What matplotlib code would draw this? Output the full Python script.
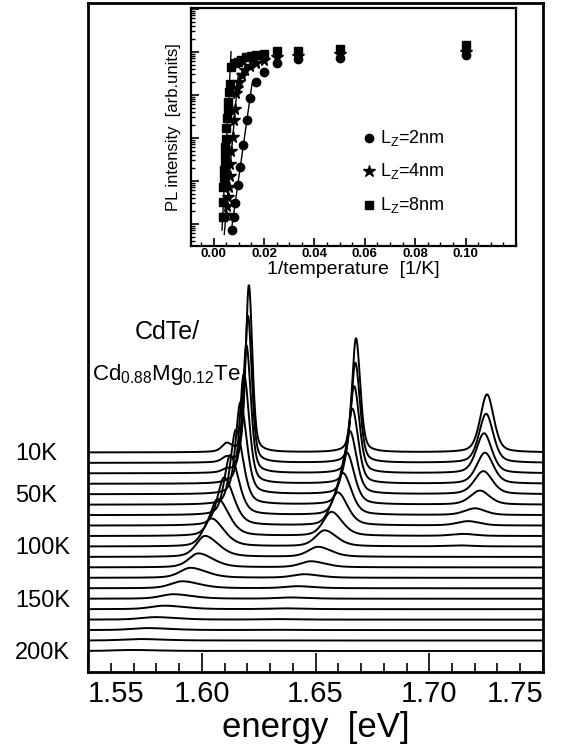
import numpy as np
import matplotlib.pyplot as plt
from matplotlib.ticker import MultipleLocator, LogLocator, NullFormatter, NullLocator

plt.rcParams['font.family'] = ['Liberation Sans', 'DejaVu Sans']
plt.rcParams['mathtext.default'] = 'regular'

# temperatures of the spectra (K), top trace first
temperatures = [10, 20, 30, 40, 50, 60, 70, 80, 90, 100,
                110, 120, 130, 140, 150, 160, 170, 180, 190, 200]
temp_labels = ['10K', '50K', '100K', '150K', '200K']
temp_label_idx = [0, 4, 9, 14, 19]

# peak of the 8nm well (energy eV, height, half widths eV)
e_8nm = [1.6207, 1.6203, 1.6196, 1.6185, 1.6170, 1.6150, 1.6125, 1.6098, 1.6070, 1.6042,
         1.6014, 1.5985, 1.5950, 1.5914, 1.5875, 1.5835, 1.5795, 1.5760, 1.5725, 1.5690]
h_8nm = [167, 147, 128, 110, 92, 75, 60, 48, 37, 28,
         21, 14, 10, 7, 4.5, 3.5, 2.5, 2, 1.5, 1]
wl_8nm = [0.0016, 0.0017, 0.0019, 0.0021, 0.0024, 0.0027, 0.0030, 0.0034, 0.0038, 0.0042,
          0.0046, 0.0050, 0.0055, 0.0060, 0.0065, 0.0070, 0.0075, 0.0080, 0.0085, 0.0090]
wr_8nm = [0.0018, 0.0020, 0.0023, 0.0027, 0.0032, 0.0037, 0.0043, 0.0050, 0.0057, 0.0064,
          0.0070, 0.0076, 0.0083, 0.0090, 0.0097, 0.0104, 0.0111, 0.0118, 0.0125, 0.0132]

# peak of the 4nm well
e_4nm = [1.6678, 1.6675, 1.6670, 1.6662, 1.6651, 1.6637, 1.6620, 1.6598, 1.6570, 1.6540,
         1.6511, 1.6480, 1.6450, 1.6420, 1.6390, 1.6360, 1.6330, 1.6300, 1.6270, 1.6240]
h_4nm = [114, 100, 87, 75, 63, 52, 42, 33, 24, 16,
         10, 6, 3.5, 2, 1.2, 0.8, 0.5, 0.3, 0.2, 0.1]
wl_4nm = [0.0020, 0.0021, 0.0023, 0.0025, 0.0028, 0.0031, 0.0035, 0.0039, 0.0043, 0.0047,
          0.0051, 0.0055, 0.0060, 0.0065, 0.0070, 0.0075, 0.0080, 0.0085, 0.0090, 0.0095]
wr_4nm = [0.0022, 0.0024, 0.0027, 0.0030, 0.0034, 0.0039, 0.0044, 0.0050, 0.0056, 0.0062,
          0.0068, 0.0074, 0.0080, 0.0086, 0.0092, 0.0098, 0.0104, 0.0110, 0.0116, 0.0122]

# peak of the 2nm well
e_2nm = [1.7254, 1.7250, 1.7241, 1.7245, 1.7238, 1.7223, 1.7201, 1.7172, 1.7150, 1.7130,
         1.7110, 1.7090, 1.7070, 1.7050, 1.7030, 1.7010, 1.6990, 1.6970, 1.6950, 1.6930]
h_2nm = [58, 49, 40, 31, 23, 14, 6.7, 4.3, 2, 1,
         0, 0, 0, 0, 0, 0, 0, 0, 0, 0]
w_2nm = [0.0035, 0.0037, 0.0040, 0.0043, 0.0047, 0.0050, 0.0054, 0.0058, 0.0062, 0.0066,
         0.0070, 0.0074, 0.0078, 0.0082, 0.0086, 0.0090, 0.0094, 0.0098, 0.0102, 0.0106]

# small shoulder below the 8nm peak
e_shoulder = 1.6110
h_shoulder = [8, 5, 3, 1, 0, 0, 0, 0, 0, 0, 0, 0, 0, 0, 0, 0, 0, 0, 0, 0]

# inset: 1/T and log10 of PL intensity
x_2nm = [0.100, 0.050, 0.0333, 0.025, 0.020, 0.0167, 0.0146, 0.0132, 0.0116, 0.0103,
         0.0097, 0.0086, 0.0079, 0.0072]
y_2nm = [-0.08, -0.15, -0.17, -0.27, -0.48, -0.70, -1.08, -1.59, -2.17, -2.67,
         -3.10, -3.53, -3.84, -4.15]
x_4nm = [0.100, 0.050, 0.0333, 0.025, 0.020, 0.0167, 0.0143, 0.0125, 0.0111, 0.0100,
         0.0094, 0.0087, 0.0083, 0.0079, 0.0076, 0.0070, 0.0066, 0.0063, 0.0060, 0.0056,
         0.0052, 0.0048]
y_4nm = [0.00, -0.06, -0.10, -0.12, -0.20, -0.25, -0.32, -0.42, -0.55, -0.70,
         -0.85, -0.97, -1.32, -1.59, -1.98, -2.30, -2.60, -2.90, -3.14, -3.37,
         -3.60, -3.80]
x_8nm = [0.100, 0.050, 0.0333, 0.025, 0.020, 0.0167, 0.0147, 0.0130, 0.0110, 0.0096,
         0.0083, 0.0070, 0.0063, 0.0060, 0.0057, 0.0055, 0.0052, 0.0050, 0.0048, 0.0046,
         0.0045, 0.0044, 0.0042, 0.0040, 0.0038, 0.0037, 0.0035]
y_8nm = [0.16, 0.06, 0.02, 0.02, -0.05, -0.08, -0.10, -0.12, -0.18, -0.23,
         -0.27, -0.35, -0.74, -0.93, -1.16, -1.36, -1.55, -1.78, -2.02, -2.21,
         -2.40, -2.60, -2.75, -2.94, -3.14, -3.49, -3.84]
# fitted lines (end points)
fit_2nm_x = [0.0152, 0.0069]
fit_2nm_y = [-0.75, -4.20]
fit_4nm_x = [0.0098, 0.0042]
fit_4nm_y = [-0.50, -4.25]
fit_8nm_x = [0.0069, 0.0033]
fit_8nm_y = [0.00, -4.15]
legend_labels = ['$L_Z$=2nm', '$L_Z$=4nm', '$L_Z$=8nm']


def peak(e, e0, h, wl, wr):
    w = np.where(e < e0, wl, wr)
    x = (e - e0) / w
    return h * (0.6 * np.exp(-np.log(2) * x ** 2) + 0.4 / (1 + x ** 2))


fig = plt.figure(figsize=(5.61, 7.53), dpi=100)
ax = fig.add_axes([0.1569, 0.1076, 0.811, 0.8884])

energy = np.linspace(1.55, 1.75, 2000)
step = 10.45
for i, t in enumerate(temperatures):
    base = 21 + (len(temperatures) - 1 - i) * step
    y = (peak(energy, e_8nm[i], h_8nm[i], wl_8nm[i], wr_8nm[i])
         + peak(energy, e_4nm[i], h_4nm[i], wl_4nm[i], wr_4nm[i])
         + peak(energy, e_2nm[i], h_2nm[i], w_2nm[i], w_2nm[i])
         + peak(energy, e_shoulder, h_shoulder[i], 0.0025, 0.0025))
    ax.plot(energy, base + y, color='black', lw=1.4)

for lab, i in zip(temp_labels, temp_label_idx):
    base = 21 + (len(temperatures) - 1 - i) * step
    ax.text(-0.16, base - 2, lab, transform=ax.get_yaxis_transform(),
            ha='left', va='center', fontsize=17)

ax.text(1.5705, 340, 'CdTe/', fontsize=18, ha='left', va='center')
ax.text(1.5517, 297, 'Cd$_{0.88}$Mg$_{0.12}$Te', fontsize=16, ha='left', va='center')

ax.set_xlim(1.55, 1.75)
ax.set_ylim(0, 669)
ax.set_xticks([1.55, 1.60, 1.65, 1.70, 1.75])
ax.set_xticklabels(['1.55', '1.60', '1.65', '1.70', '1.75'], fontsize=21)
ax.xaxis.set_minor_locator(MultipleLocator(0.01))
ax.yaxis.set_major_locator(NullLocator())
ax.tick_params(axis='x', which='major', direction='in', length=14, width=1.2, pad=6)
ax.tick_params(axis='x', which='minor', direction='in', length=6.5, width=1.2)
labs = ax.get_xticklabels()
labs[0].set_ha('left')
labs[-1].set_ha('right')
ax.set_xlabel('energy  [eV]', fontsize=25, labelpad=2)
for s in ax.spines.values():
    s.set_linewidth(2)

# inset
axi = fig.add_axes([0.3405, 0.6733, 0.5793, 0.3161])
axi.semilogy(x_2nm, [10 ** v for v in y_2nm], 'o', color='black', ms=6)
axi.semilogy(x_4nm, [10 ** v for v in y_4nm], '*', color='black', ms=8.5)
axi.semilogy(x_8nm, [10 ** v for v in y_8nm], 's', color='black', ms=5.5)
axi.semilogy(fit_2nm_x, [10 ** v for v in fit_2nm_y], color='black', lw=1)
axi.semilogy(fit_4nm_x, [10 ** v for v in fit_4nm_y], color='black', lw=1)
axi.semilogy(fit_8nm_x, [10 ** v for v in fit_8nm_y], color='black', lw=1)

# legend drawn by hand like the original
for k, (lab, m, ms) in enumerate(zip(legend_labels, ['o', '*', 's'], [6, 9, 5.5])):
    yl = 10 ** (-2.0 - 0.78 * k)
    axi.plot([0.0615], [yl], m, color='black', ms=ms)
    axi.text(0.066, yl, lab, fontsize=13, va='center', ha='left')

axi.set_xlim(-0.009, 0.12)
axi.set_ylim(10 ** -4.52, 10 ** 1.02)
axi.set_xticks([0.00, 0.02, 0.04, 0.06, 0.08, 0.10])
axi.set_xticklabels(['0.00', '0.02', '0.04', '0.06', '0.08', '0.10'],
                    fontsize=9.5, fontweight='bold')
axi.xaxis.set_minor_locator(MultipleLocator(0.005))
axi.yaxis.set_major_locator(LogLocator(base=10, numticks=10))
axi.yaxis.set_minor_locator(LogLocator(base=10, subs=np.arange(2, 10), numticks=10))
axi.yaxis.set_major_formatter(NullFormatter())
axi.yaxis.set_minor_formatter(NullFormatter())
axi.tick_params(axis='both', which='major', direction='in', length=6, width=1.2, pad=1.5)
axi.tick_params(axis='both', which='minor', direction='in', length=3, width=1)
axi.set_xlabel('1/temperature  [1/K]', fontsize=14, labelpad=1)
axi.set_ylabel('PL intensity  [arb.units]', fontsize=12, labelpad=4)
for s in axi.spines.values():
    s.set_linewidth(1.6)

fig.savefig('out.png', dpi=100)
